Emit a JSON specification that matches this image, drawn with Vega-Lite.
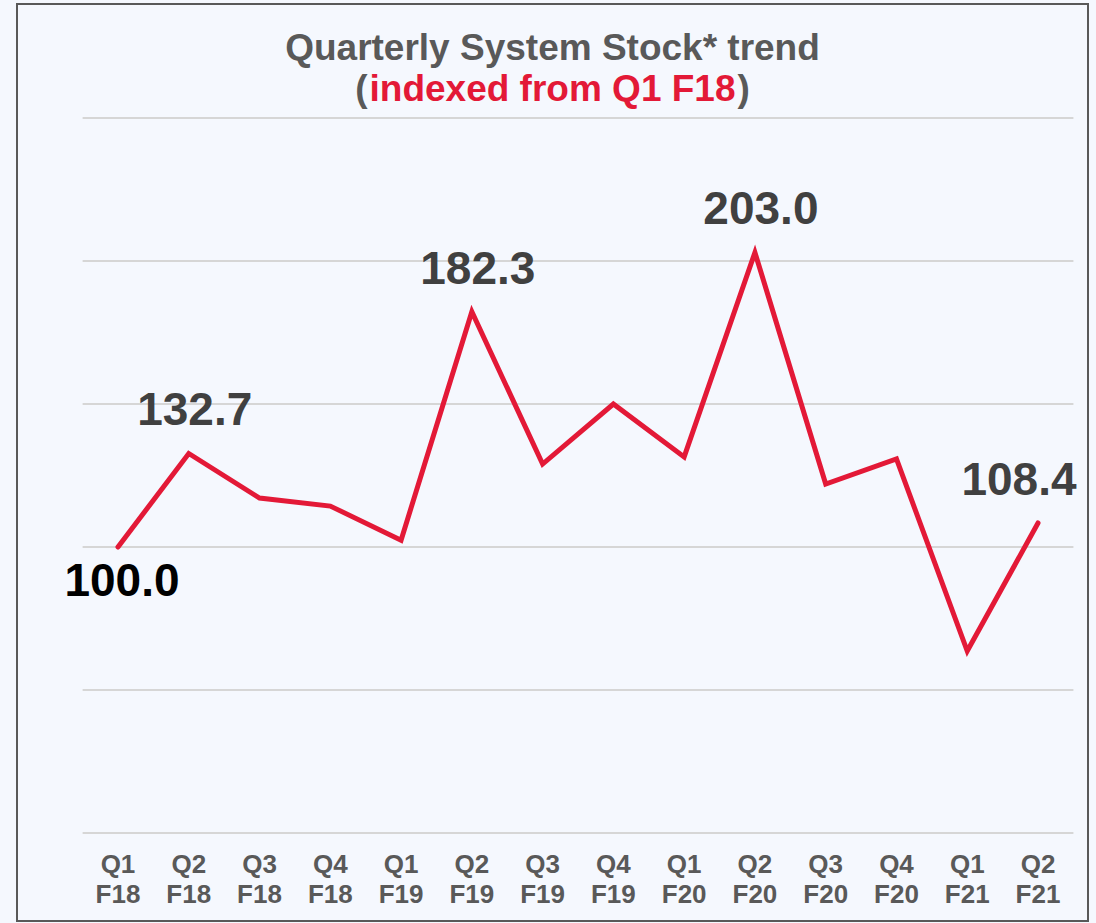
{
  "$schema": "https://vega.github.io/schema/vega-lite/v6.json",
  "width": 1071,
  "height": 917,
  "autosize": "none",
  "padding": {"left": 17, "top": 4, "right": 8, "bottom": 2},
  "background": "#F5F8FE",
  "config": {
    "font": "Liberation Sans",
    "view": {"stroke": "#595959", "strokeWidth": 2, "fill": "#F5F8FE"}
  },
  "title": {
    "text": ["Quarterly System Stock* trend", "(\u00a0\u00a0\u00a0\u00a0\u00a0\u00a0\u00a0\u00a0\u00a0\u00a0\u00a0\u00a0\u00a0\u00a0\u00a0\u00a0\u00a0\u00a0\u00a0\u00a0\u00a0\u00a0\u00a0\u00a0\u00a0\u00a0\u00a0\u00a0\u00a0\u00a0\u00a0\u00a0\u00a0\u00a0\u00a0\u00a0)"],
    "subtitle": "indexed from Q1 F18",
    "anchor": "middle",
    "frame": "group",
    "fontSize": 37,
    "fontWeight": "bold",
    "color": "#595959",
    "lineHeight": 41,
    "subtitleFont": "Liberation Sans",
    "subtitleFontSize": 37,
    "subtitleFontWeight": "bold",
    "subtitleColor": "#E31937",
    "subtitlePadding": -37,
    "offset": -105
  },
  "data": {
    "values": [
      {"q": "Q1 F18", "v": 100.0},
      {"q": "Q2 F18", "v": 132.7},
      {"q": "Q3 F18", "v": 117.1},
      {"q": "Q4 F18", "v": 114.3},
      {"q": "Q1 F19", "v": 102.4},
      {"q": "Q2 F19", "v": 182.3},
      {"q": "Q3 F19", "v": 129.0},
      {"q": "Q4 F19", "v": 150.0},
      {"q": "Q1 F20", "v": 131.5},
      {"q": "Q2 F20", "v": 203.0},
      {"q": "Q3 F20", "v": 122.0},
      {"q": "Q4 F20", "v": 130.8},
      {"q": "Q1 F21", "v": 63.6},
      {"q": "Q2 F21", "v": 108.4}
    ]
  },
  "layer": [
    {
      "data": {"values": [{"g": 0}, {"g": 50}, {"g": 100}, {"g": 150}, {"g": 200}, {"g": 250}]},
      "mark": {"type": "rule", "color": "#D6D6D6", "strokeWidth": 2},
      "encoding": {
        "y": {"field": "g", "type": "quantitative", "axis": null,
              "scale": {"domain": [-30.8, 289.9], "nice": false, "zero": false}},
        "x": {"datum": "Q1 F18", "type": "nominal", "bandPosition": 0},
        "x2": {"datum": "Q2 F21", "bandPosition": 1}
      }
    },
    {
      "mark": {"type": "line", "color": "#E31937", "strokeWidth": 5, "strokeCap": "round"},
      "encoding": {
        "x": {
          "field": "q", "type": "nominal", "title": null,
          "scale": {
            "type": "band",
            "domain": ["Q1 F18", "Q2 F18", "Q3 F18", "Q4 F18", "Q1 F19", "Q2 F19", "Q3 F19", "Q4 F19", "Q1 F20", "Q2 F20", "Q3 F20", "Q4 F20", "Q1 F21", "Q2 F21"],
            "paddingInner": 0, "paddingOuter": 0.5666, "align": 0.818
          },
          "axis": {
            "orient": "bottom", "offset": -70, "domain": false, "ticks": false, "grid": false,
            "labelAngle": 0, "labelAlign": "center", "labelExpr": "split(datum.label, ' ')",
            "labelFontSize": 26, "labelFontWeight": "bold", "labelColor": "#595959",
            "labelLineHeight": 30, "labelPadding": 0, "labelBaseline": "top"
          }
        },
        "y": {"field": "v", "type": "quantitative", "axis": null}
      }
    },
    {
      "transform": [{"filter": "datum.q == 'Q2 F18' || datum.q == 'Q2 F19' || datum.q == 'Q2 F20'"}],
      "mark": {"type": "text", "fontSize": 46, "fontWeight": "bold", "color": "#404040", "baseline": "alphabetic", "align": "center", "dy": -28, "dx": 6},
      "encoding": {
        "x": {"field": "q", "type": "nominal"},
        "y": {"field": "v", "type": "quantitative"},
        "text": {"field": "v", "type": "quantitative", "format": ".1f"}
      }
    },
    {
      "transform": [{"filter": "datum.q == 'Q1 F18'"}],
      "mark": {"type": "text", "fontSize": 46, "fontWeight": "bold", "color": "#000000", "baseline": "alphabetic", "align": "center", "dy": 49, "dx": 4},
      "encoding": {
        "x": {"field": "q", "type": "nominal"},
        "y": {"field": "v", "type": "quantitative"},
        "text": {"field": "v", "type": "quantitative", "format": ".1f"}
      }
    },
    {
      "transform": [{"filter": "datum.q == 'Q2 F21'"}],
      "mark": {"type": "text", "fontSize": 46, "fontWeight": "bold", "color": "#404040", "baseline": "alphabetic", "align": "center", "dy": -28, "dx": -19},
      "encoding": {
        "x": {"field": "q", "type": "nominal"},
        "y": {"field": "v", "type": "quantitative"},
        "text": {"field": "v", "type": "quantitative", "format": ".1f"}
      }
    }
  ]
}
